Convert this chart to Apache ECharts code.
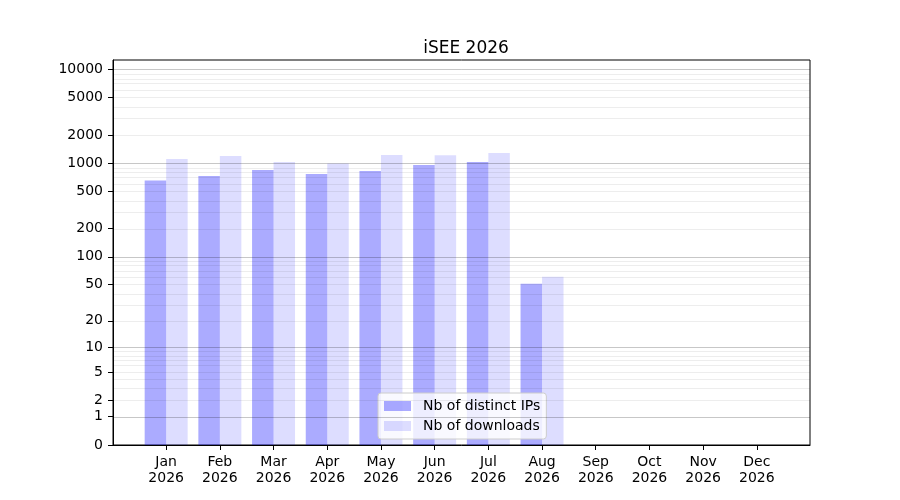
<!DOCTYPE html>
<html>
<head>
<meta charset="utf-8">
<script src="https://cdn.jsdelivr.net/npm/echarts@6/dist/echarts.min.js"></script>
<style>
  html, body { margin: 0; padding: 0; background: #fff; }
  #chart { width: 900px; height: 500px; }
</style>
</head>
<body>
<div id="chart"></div>
<script>
// monthly counts
var months = ['Jan', 'Feb', 'Mar', 'Apr', 'May', 'Jun', 'Jul', 'Aug', 'Sep', 'Oct', 'Nov', 'Dec'];
var year = '2026';
var distinctIPs = [653, 732, 848, 769, 827, 959, 1032, 51, 0, 0, 0, 0];
var downloads = [1111, 1196, 1032, 995, 1225, 1220, 1287, 61, 0, 0, 0, 0];
var yTicks = [0, 1, 2, 5, 10, 20, 50, 100, 200, 500, 1000, 2000, 5000, 10000];
var majorGrid = [1, 10, 100, 1000, 10000];
var minorGrid = [];
[1, 10, 100, 1000].forEach(function (d) {
    for (var k = 2; k <= 9; k++) minorGrid.push(k * d);
});

// y axis is log10(1 + n)
function tr(v) { return Math.log10(1 + v); }

var monthIdx = months.map(function (m, i) { return i; });

var myChart = echarts.init(document.getElementById('chart'));

var gridLines = [];
minorGrid.forEach(function (v) {
    gridLines.push({ yAxis: tr(v), lineStyle: { color: 'rgba(0,0,0,0.07)', width: 1, type: 'solid' } });
});
majorGrid.forEach(function (v) {
    gridLines.push({ yAxis: tr(v), lineStyle: { color: 'rgba(0,0,0,0.22)', width: 1, type: 'solid' } });
});

var option = {
    animation: false,
    textStyle: { fontFamily: 'DejaVu Sans' },
    title: {
        text: 'iSEE ' + year,
        left: 461,
        textAlign: 'center',
        top: 35,
        textStyle: { fontSize: 17, fontWeight: 'normal', color: '#000', fontFamily: 'DejaVu Sans' }
    },
    legend: {
        orient: 'vertical',
        left: 378,
        top: 393,
        padding: [6, 6, 6, 6],
        itemWidth: 27,
        itemHeight: 10,
        itemGap: 6,
        icon: 'rect',
        backgroundColor: 'rgba(255,255,255,0.8)',
        borderColor: '#cccccc',
        borderWidth: 1,
        borderRadius: 3,
        textStyle: { fontSize: 14, color: '#000', fontFamily: 'DejaVu Sans', padding: [0, 0, 0, 7] },
        data: ['Nb of distinct IPs', 'Nb of downloads']
    },
    grid: {
        left: 113,
        right: 90,
        top: 60,
        bottom: 55,
        show: true,
        borderColor: '#000',
        borderWidth: 1
    },
    xAxis: {
        type: 'value',
        min: -0.99,
        max: 11.99,
        splitLine: { show: false },
        axisLine: { onZero: false, lineStyle: { color: '#000' } },
        axisTick: { customValues: monthIdx, length: 5, lineStyle: { color: '#000' } },
        axisLabel: {
            customValues: monthIdx,
            margin: 9,
            fontSize: 14,
            lineHeight: 16,
            color: '#000',
            formatter: function (v) { return months[Math.round(v)] + '\n' + year; }
        }
    },
    yAxis: {
        type: 'value',
        min: 0,
        max: 4.1,
        splitLine: { show: false },
        axisLine: { show: true, onZero: false, lineStyle: { color: '#000' } },
        axisTick: { show: true, customValues: yTicks.map(tr), length: 5, lineStyle: { color: '#000' } },
        axisLabel: {
            customValues: yTicks.map(tr),
            margin: 10,
            fontSize: 14,
            color: '#000',
            formatter: function (v) { return String(Math.round(Math.pow(10, v) - 1)); }
        }
    },
    series: [
        {
            name: 'Nb of distinct IPs',
            type: 'bar',
            barWidth: 21.5,
            barGap: '0%',
            itemStyle: { color: 'rgba(0,0,255,0.33)' },
            data: distinctIPs.map(function (v, i) { return [i, tr(v)]; }),
            markLine: {
                silent: true,
                symbol: 'none',
                label: { show: false },
                data: gridLines
            }
        },
        {
            name: 'Nb of downloads',
            type: 'bar',
            barWidth: 21.5,
            barGap: '0%',
            itemStyle: { color: 'rgba(0,0,255,0.135)' },
            data: downloads.map(function (v, i) { return [i, tr(v)]; })
        }
    ]
};

myChart.setOption(option);
</script>
</body>
</html>
